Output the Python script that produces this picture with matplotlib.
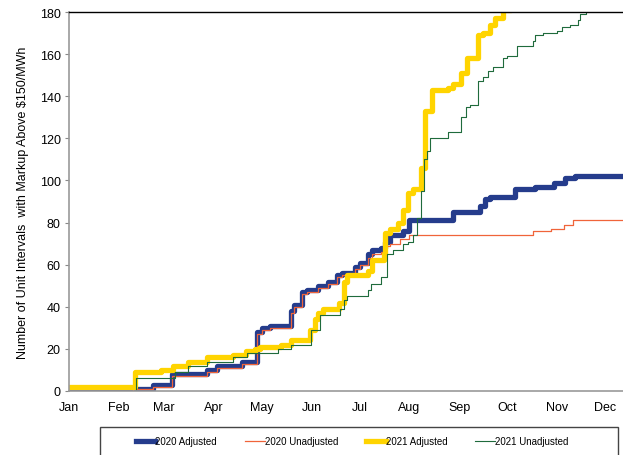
import matplotlib
matplotlib.use("Agg")
import matplotlib.pyplot as plt
from matplotlib.patches import Rectangle

plt.rcParams['font.family'] = ['Liberation Sans Narrow', 'Liberation Sans', 'DejaVu Sans']

# x values are day of year, y values are cumulative counts (step changes)
adj20_days = [0, 40, 52, 64, 86, 92, 108, 117, 120, 125, 138, 140, 145, 148, 155, 161, 167, 170,
              178, 181, 186, 189, 194, 197, 200, 208, 212, 239, 256, 259, 262, 278, 290, 302, 309,
              315, 346]
adj20_vals = [0, 1, 3, 8, 10, 12, 14, 28, 30, 31, 38, 41, 47, 48, 50, 52, 55, 56,
              59, 61, 65, 67, 68, 71, 74, 76, 81, 85, 88, 91, 92, 96, 97, 99, 101,
              102, 102]

unadj20_days = [0, 40, 52, 64, 86, 92, 108, 117, 120, 125, 138, 140, 145, 148, 155, 161, 167, 170,
                178, 181, 186, 189, 194, 197, 200, 206, 212, 289, 300, 308, 314, 346]
unadj20_vals = [0, 1, 2, 7, 9, 11, 13, 27, 29, 30, 37, 40, 46, 47, 49, 51, 54, 55,
                58, 60, 63, 65, 66, 69, 70, 72, 74, 76, 77, 79, 81, 81]

adj21_days = [0, 41, 57, 65, 74, 86, 102, 110, 116, 119, 132, 138, 150, 153, 155, 158, 168, 171,
              173, 186, 189, 196, 197, 200, 205, 208, 211, 214, 219, 222, 226, 236, 239, 244, 248,
              255, 258, 262, 265, 270, 275]
adj21_vals = [2, 9, 10, 12, 14, 16, 17, 19, 20, 21, 22, 24, 29, 34, 37, 39, 42, 52,
              55, 57, 62, 65, 75, 77, 80, 86, 94, 96, 106, 133, 143, 144, 146, 151, 158,
              169, 170, 174, 177, 181, 185]

unadj21_days = [0, 42, 66, 74, 86, 102, 111, 130, 138, 151, 156, 169, 171, 173, 186, 188, 194,
                198, 202, 208, 211, 214, 217, 219, 221, 223, 225, 236, 244, 247, 250, 255, 258,
                261, 264, 270, 273, 279, 289, 290, 295, 304, 307, 312, 317, 318, 322, 323]
unadj21_vals = [0, 6, 9, 12, 14, 16, 18, 20, 22, 29, 36, 39, 43, 45, 48, 51, 54,
                65, 67, 70, 71, 74, 82, 95, 110, 114, 120, 123, 130, 135, 136, 147, 149,
                152, 154, 158, 159, 164, 166, 169, 170, 171, 173, 174, 176, 179, 181, 184]

month_days = [0, 31, 59, 90, 120, 151, 181, 212, 243, 273, 304, 334]
month_labels = ['Jan', 'Feb', 'Mar', 'Apr', 'May', 'Jun', 'Jul', 'Aug', 'Sep', 'Oct', 'Nov', 'Dec']

W, H = 623, 456
fig = plt.figure(figsize=(W / 100, H / 100), dpi=100)
ax = fig.add_axes([69 / W, 1 - 392 / H, 1 - 69 / W, (392 - 13) / H])

ax.step(adj20_days, adj20_vals, where='post', color='#253C8C', lw=3.8, label='2020 Adjusted')
ax.step(unadj20_days, unadj20_vals, where='post', color='#F0643A', lw=0.9, label='2020 Unadjusted')
ax.step(adj21_days, adj21_vals, where='post', color='#FFD400', lw=3.8, label='2021 Adjusted')
ax.step(unadj21_days, unadj21_vals, where='post', color='#1F6B3C', lw=0.8, label='2021 Unadjusted')

ax.set_xlim(0, 345)
ax.set_ylim(0, 180)
ax.set_yticks(range(0, 181, 20))
ax.set_xticks(month_days)
ax.set_xticklabels(month_labels)
ax.tick_params(axis='y', labelsize=9, length=3, color='#888888', pad=3)
ax.tick_params(axis='x', labelsize=9, length=0, pad=7)
ax.set_ylabel('Number of Unit Intervals  with Markup Above \\$150/MWh', fontsize=9, labelpad=8)

ax.spines['right'].set_visible(False)
ax.spines['top'].set_color('black')
ax.spines['top'].set_linewidth(1.0)
ax.spines['left'].set_color('#999999')
ax.spines['bottom'].set_color('#999999')
ax.spines['left'].set_linewidth(1.2)
ax.spines['bottom'].set_linewidth(1.2)

# legend box runs past the bottom edge of the figure
fig.patches.append(Rectangle((100 / W, -0.05), 518 / W, (0.05 + 1 - 428 / H),
                             transform=fig.transFigure, fill=False, edgecolor='#444444', lw=1.0))
fig.legend(loc='center', bbox_to_anchor=(352 / W, 1 - 442 / H), ncol=4, frameon=False,
           fontsize=7, handlelength=2.0, handletextpad=0.0, columnspacing=2.9)

fig.savefig('out.png', dpi=100)
